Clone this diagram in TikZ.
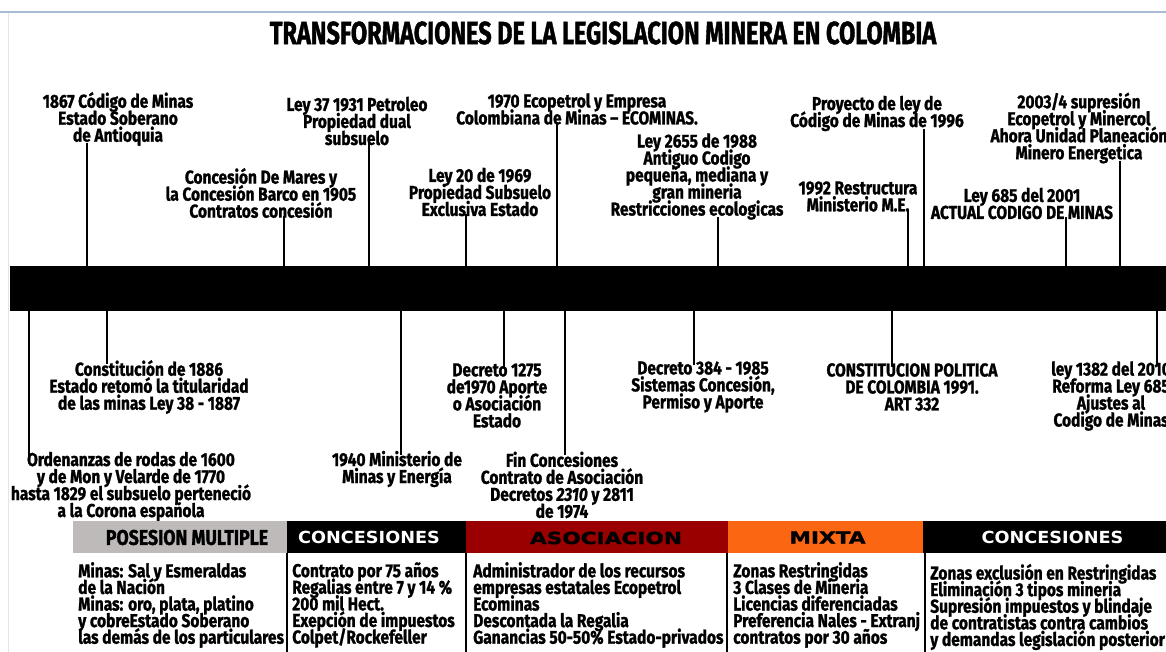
\documentclass[tikz,border=0pt]{standalone}
\usepackage{fontspec}
\newfontfamily\cond{Fira Sans}[FakeStretch=0.83, BoldFeatures={FakeBold=1.2}, BoldItalicFeatures={FakeBold=1.2}]
\newfontfamily\titlef{Fira Sans}[FakeStretch=0.735, BoldFeatures={FakeBold=1.2}]
\newfontfamily\wide{DejaVu Sans}[FakeStretch=1.06]
\newfontfamily\wider{DejaVu Sans}[FakeStretch=1.3, BoldFeatures={FakeBold=1.5}]
\newcommand\tightlines{\lineskiplimit=-100pt\relax}
\definecolor{posgray}{RGB}{190,186,186}
\definecolor{asored}{RGB}{155,0,0}
\definecolor{mixorange}{RGB}{250,102,18}
\definecolor{topblue}{RGB}{168,188,212}
\definecolor{edgegray}{RGB}{224,229,236}
\begin{document}
\begin{tikzpicture}[x=0.75pt,y=-0.75pt,
  lbl/.style={font=\cond\bfseries\fontsize{14}{12.75}\selectfont\tightlines, align=center, inner sep=0pt},
  body/.style={font=\cond\bfseries\fontsize{14}{12.45}\selectfont\tightlines, align=left, inner sep=0pt, anchor=west},
  tick/.style={line width=2pt, black},
  colline/.style={line width=2.2pt, black},
  hdrw/.style={font=\wide\bfseries\fontsize{12.5}{12.5}\selectfont, inner sep=0pt, white},
  hdrk/.style={font=\wider\bfseries\fontsize{12.5}{12.5}\selectfont, inner sep=0pt, black}]
\clip (0,0) rectangle (1166,652);
\fill[white] (0,0) rectangle (1166,652);
% frame lines
\draw[topblue, line width=1.5pt] (0,12.5) -- (1166,12.5);
\draw[edgegray, line width=1pt] (8.5,13) -- (8.5,652);
% title
\node[font=\titlef\bfseries\fontsize{24}{24}\selectfont, inner sep=0pt] (title) at (603,33) {TRANSFORMACIONES DE LA LEGISLACION MINERA EN COLOMBIA};
% bar
\fill[black] (10,265.5) rectangle (1166,311);
% top labels
\node[lbl] (n1) at (118,119) {1867 Código de Minas\\Estado Soberano\\de Antioquia};
\node[lbl] (n2) at (261,193) {Concesión De Mares y\\la Concesión Barco en 1905\\Contratos concesión};
\node[lbl] (n3) at (357,121) {Ley 37 1931 Petroleo\\Propiedad dual\\subsuelo};
\node[lbl] (n4) at (577,109) {1970 Ecopetrol y Empresa\\Colombiana de Minas – ECOMINAS.};
\node[lbl] (n5) at (480,192) {Ley 20 de 1969\\Propiedad Subsuelo\\Exclusiva Estado};
\node[lbl] (n6) at (697,176.5) {Ley 2655 de 1988\\Antiguo Codigo\\pequeña, mediana y\\gran mineria\\Restricciones ecologicas};
\node[lbl] (n7) at (877,113.5) {Proyecto de ley de\\Código de Minas de 1996};
\node[lbl] (n8) at (858,196.5) {1992 Restructura\\Ministerio M.E.};
\node[lbl] (n9) at (1022,203.5) {Ley 685 del 2001\\ACTUAL CODIGO DE MINAS};
\node[lbl] (n10) at (1079,128) {2003/4 supresión\\Ecopetrol y Minercol\\Ahora Unidad Planeación\\Minero Energetica};
\foreach \n/\x in {n1/87,n2/284,n3/369,n4/557,n5/466,n6/718,n7/924,n8/908,n9/1066,n10/1120}{
  \coordinate (k\n) at (\x,266);
  \draw[tick] ([yshift=2pt]\n.south -| k\n) -- (k\n);
}
% bottom labels
\node[lbl] (ma) at (131,486.5) {Ordenanzas de rodas de 1600\\y de Mon y Velarde de 1770\\hasta 1829 el subsuelo perteneció\\a la Corona española};
\node[lbl] (mb) at (149,387) {Constitución de 1886\\Estado retomó la titularidad\\de las minas Ley 38 - 1887};
\node[lbl] (mc) at (397,469) {1940 Ministerio de\\Minas y Energía};
\node[lbl] (md) at (497,395.5) {Decreto 1275\\de1970 Aporte\\o Asociación\\Estado};
\node[lbl] (me) at (562,485) {Fin Concesiones\\Contrato de Asociación\\Decretos \textit{2310} y 2811\\de 1974};
\node[lbl] (mf) at (703,387) {Decreto 384 - 1985\\Sistemas Concesión,\\Permiso y Aporte};
\node[lbl] (mg) at (912,387) {CONSTITUCION POLITICA\\DE COLOMBIA 1991.\\ART 332};
\node[lbl] (mh) at (1111,396) {ley 1382 del 2010\\Reforma Ley 685\\Ajustes al\\Codigo de Minas};
\foreach \n/\x in {ma/29,mb/107,mc/401,md/504,me/565,mf/694,mg/892,mh/1157}{
  \coordinate (k\n) at (\x,310);
  \draw[tick] (k\n) -- ([yshift=-3pt]\n.north -| k\n);
}
% table header
\fill[posgray] (73,521) rectangle (287,553);
\fill[black] (287,521) rectangle (466,553);
\fill[asored] (466,521) rectangle (728,553);
\fill[mixorange] (728,521) rectangle (923,553);
\fill[black] (923,521) rectangle (1166,553);
\node[font=\cond\bfseries\fontsize{16}{16}\selectfont, inner sep=0pt] (h1) at (187,537.5) {POSESION MULTIPLE};
\node[hdrw] (h2) at (369,537.5) {CONCESIONES};
\node[hdrk] (h3) at (606,538) {ASOCIACION};
\node[hdrk] (h4) at (827.5,537.5) {MIXTA};
\node[hdrw] (h5) at (1052.5,537.5) {CONCESIONES};
% body
\node[body] (b1) at (78,605) {Minas: Sal y Esmeraldas\\de la Nación\\Minas: oro, plata, platino\\y cobreEstado Soberano\\las demás de los particulares};
\node[body] (b2) at (292,605) {Contrato por 75 años\\Regalias entre 7 y 14 \%\\200 mil Hect.\\Exepción de impuestos\\Colpet/Rockefeller};
\node[body] (b3) at (473,605) {Administrador de los recursos\\empresas estatales Ecopetrol\\Ecominas\\Descontada la Regalia\\Ganancias 50-50\% Estado-privados};
\node[body] (b4) at (733,605) {Zonas Restringidas\\3 Clases de Mineria\\Licencias diferenciadas\\Preferencia Nales - Extranj\\contratos por 30 años};
\node[body] (b5) at (930,607) {Zonas exclusión en Restringidas\\Eliminación 3 tipos mineria\\Supresión impuestos y blindaje\\de contratistas contra cambios\\y demandas legislación posterior};
% column lines
\foreach \x in {287,466,727,925}{
  \draw[colline] (\x,553) -- (\x,652);
}
\end{tikzpicture}
\end{document}
